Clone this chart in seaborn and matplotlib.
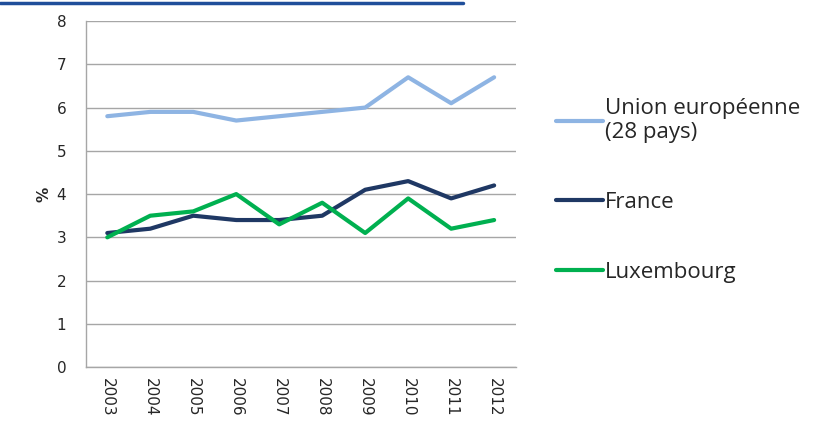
import pandas as pd
import numpy as np
import matplotlib.pyplot as plt
import seaborn as sns
from matplotlib.lines import Line2D

sns.set_theme(style="white")
plt.rcParams['font.family'] = ['DejaVu Sans']

# Data
years = ['2003', '2004', '2005', '2006', '2007', '2008', '2009', '2010', '2011', '2012']
eu28 = [5.8, 5.9, 5.9, 5.7, 5.8, 5.9, 6.0, 6.7, 6.1, 6.7]
france = [3.1, 3.2, 3.5, 3.4, 3.4, 3.5, 4.1, 4.3, 3.9, 4.2]
luxembourg = [3.0, 3.5, 3.6, 4.0, 3.3, 3.8, 3.1, 3.9, 3.2, 3.4]
series_names = ['Union européenne\n(28 pays)', 'France', 'Luxembourg']
colors = ['#8EB4E3', '#1F3864', '#00B050']

df = pd.DataFrame({'Année': years * 3,
                   'Valeur': eu28 + france + luxembourg,
                   'Pays': np.repeat(series_names, len(years))})
df['x'] = np.tile(np.arange(len(years)), 3)

fig = plt.figure(figsize=(8.25, 4.21), dpi=100)
ax = fig.add_axes([0.104, 0.128, 0.521, 0.822])

sns.lineplot(data=df, x='x', y='Valeur', hue='Pays', palette=colors,
             linewidth=3, ax=ax, legend=False)

ax.set_xlim(-0.5, len(years) - 0.5)
ax.set_ylim(0, 8)
ax.set_yticks(range(0, 9))
ax.set_xticks(range(len(years)))
ax.set_xticklabels(years, rotation=-90, fontsize=11)
ax.tick_params(axis='y', labelsize=11, length=0, pad=14)
ax.tick_params(axis='x', length=0, pad=8)
ax.grid(axis='y', color='#A6A6A6', linewidth=1)
ax.set_axisbelow(True)
for s in ['top', 'right']:
    ax.spines[s].set_visible(False)
for s in ['left', 'bottom']:
    ax.spines[s].set_color('#A6A6A6')
    ax.spines[s].set_linewidth(1)
ax.set_xlabel('')
ax.set_ylabel('%', fontsize=11, fontweight='bold', labelpad=4)

handles = [Line2D([0], [0], color=c, linewidth=3) for c in colors]
leg = fig.legend(handles, series_names, loc='upper left', bbox_to_anchor=(0.65, 0.815),
                 frameon=False, handlelength=2.1, handletextpad=0.1, labelspacing=2.2,
                 prop={'family': 'Open Sans', 'size': 16})

# blue rule at top
fig.add_artist(Line2D([0, 0.561], [0.994, 0.994], color='#1F4E9A', linewidth=2.5,
                      transform=fig.transFigure))

plt.savefig('out.png', dpi=100)
